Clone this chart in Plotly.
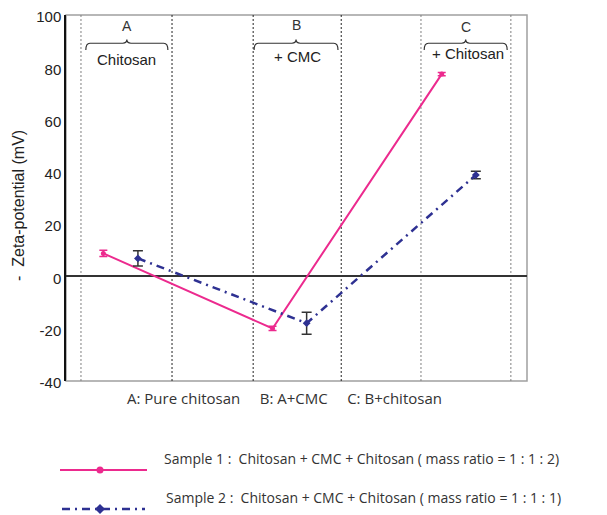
import plotly.graph_objects as go

# ---- data ----
stage_pos_s1 = [8.1, 44.8, 81.5]
zeta_s1 = [8.8, -19.9, 77.4]
err_s1 = [1.2, 0.8, 0.6]

stage_pos_s2 = [15.6, 52.2, 88.9]
zeta_s2 = [6.9, -17.9, 38.8]
err_s2 = [2.9, 4.2, 1.4]

region_letters = ["A", "B", "C"]
region_labels = ["Chitosan", "+ CMC", "+ Chitosan"]
region_bounds = [(3.25, 23.0), (40.6, 59.7), (77.0, 96.5)]
y_ticks = [-40, -20, 0, 20, 40, 60, 80, 100]
y_tick_text = ["-40", "-20", "0", "20", "40", "60", "80", "100"]

legend_s1 = "Sample 1 :  Chitosan + CMC + Chitosan ( mass ratio = 1 : 1 : 2)"
legend_s2 = "Sample 2 :  Chitosan + CMC + Chitosan ( mass ratio = 1 : 1 : 1)"
caption = ("A: Pure chitosan&nbsp;&nbsp;&nbsp;&nbsp; B: A+CMC"
           "&nbsp;&nbsp;&nbsp;&nbsp; C: B+chitosan")

PINK = "#EC2A8E"
NAVY = "#2E3192"
# page body adds an 8px offset; size the figure to fit the window
OFF = 8
W, H = 607 - OFF, 515 - OFF


def px(x):
    return (x - OFF) / W


def py(y):
    return 1 - (y - OFF) / H


fig = go.Figure()
fig.add_trace(go.Scatter(
    x=stage_pos_s1, y=zeta_s1, mode="lines+markers",
    line=dict(color=PINK, width=2),
    marker=dict(color=PINK, size=5, symbol="circle"),
    error_y=dict(type="data", array=err_s1, color=PINK, thickness=1.5, width=4),
    showlegend=False))
fig.add_trace(go.Scatter(
    x=stage_pos_s2, y=zeta_s2, mode="lines+markers",
    line=dict(color=NAVY, width=2.5, dash="8px,5px,2px,5px"),
    marker=dict(color=NAVY, size=6, symbol="diamond"),
    error_y=dict(type="data", array=err_s2, color="#333333", thickness=1.5, width=5),
    showlegend=False))

shapes = []
# frame
shapes.append(dict(type="rect", xref="x domain", yref="y domain", x0=0, x1=1, y0=0, y1=1,
                   line=dict(color="#A0A0A0", width=1.5), layer="below"))
# vertical dotted separators
sep_colors = ["#808080", "#222222", "#222222", "#222222", "#808080", "#808080"]
seps = [b for pair in region_bounds for b in pair]
for xv, c in zip(seps, sep_colors):
    shapes.append(dict(type="line", xref="x", yref="y domain", x0=xv, x1=xv, y0=0, y1=1,
                       line=dict(color=c, width=1, dash="2px,2px"), layer="below"))


def brace(x1, x2, yb=86.6, yl=89.2, yt=90.6, r=0.9):
    xm = (x1 + x2) / 2
    return (f"M {x1},{yb} Q {x1},{yl} {x1+r},{yl} L {xm-r},{yl} Q {xm},{yl} {xm},{yt} "
            f"Q {xm},{yl} {xm+r},{yl} L {x2-r},{yl} Q {x2},{yl} {x2},{yb}")


brace_spans = [(4.3, 22.1), (40.8, 59.0), (77.7, 95.7)]
for (a, b) in brace_spans:
    shapes.append(dict(type="path", xref="x", yref="y", path=brace(a, b),
                       line=dict(color="#333333", width=1.2)))

# legend glyphs (paper coords)
shapes.append(dict(type="line", xref="paper", yref="paper", x0=px(60), x1=px(147),
                   y0=py(470), y1=py(470), line=dict(color=PINK, width=2)))
shapes.append(dict(type="circle", xref="paper", yref="paper", x0=px(96.5), x1=px(103.5),
                   y0=py(473.5), y1=py(466.5), fillcolor=PINK, line=dict(color=PINK, width=0)))
shapes.append(dict(type="line", xref="paper", yref="paper", x0=px(62), x1=px(145),
                   y0=py(509), y1=py(509), line=dict(color=NAVY, width=2.5, dash="8px,5px,2px,5px")))
shapes.append(dict(type="path", xref="paper", yref="paper",
                   path=f"M {px(100)},{py(504)} L {px(105)},{py(509)} L {px(100)},{py(514)} L {px(95)},{py(509)} Z",
                   fillcolor=NAVY, line=dict(color=NAVY, width=0)))

annotations = []
letter_y = [95.6, 96.2, 95.4]
label_pos = [(13.2, 82.8), (50.3, 84.3), (87.2, 85.1)]
for (a, b), L, ly in zip(brace_spans, region_letters, letter_y):
    annotations.append(dict(x=(a + b) / 2, y=ly, xref="x", yref="y", text=L, showarrow=False,
                            xanchor="center",
                            font=dict(family="Liberation Sans, Arial", size=14, color="#333333")))
for (lx, lyy), t in zip(label_pos, region_labels):
    annotations.append(dict(x=lx, y=lyy, xref="x", yref="y", text=t, showarrow=False,
                            xanchor="center",
                            font=dict(family="Liberation Sans, Arial", size=15, color="#222222")))

annotations.append(dict(x=px(18.5), y=py(205.5), xref="paper", yref="paper",
                        xanchor="center", yanchor="middle",
                        text="-&nbsp;&nbsp;Zeta-potential (mV)", textangle=-90, showarrow=False,
                        font=dict(family="Liberation Sans, Arial", size=16, color="#222222")))
annotations.append(dict(x=px(284), y=py(410), xref="paper", yref="paper", text=caption,
                        xanchor="center",
                        showarrow=False, font=dict(family="Open Sans", size=15, color="#333333")))
annotations.append(dict(x=px(162), y=py(470), xref="paper", yref="paper", text=legend_s1,
                        xanchor="left", showarrow=False,
                        font=dict(family="Open Sans", size=14, color="#333333")))
annotations.append(dict(x=px(164), y=py(509), xref="paper", yref="paper", text=legend_s2,
                        xanchor="left", showarrow=False,
                        font=dict(family="Open Sans", size=14, color="#333333")))

fig.update_layout(
    width=W, height=H,
    margin=dict(l=0, r=0, t=0, b=0, autoexpand=False),
    paper_bgcolor="white", plot_bgcolor="white",
    shapes=shapes, annotations=annotations,
    showlegend=False,
    xaxis=dict(domain=[px(66), px(527)], range=[0, 100], showticklabels=False,
               showgrid=False, zeroline=False, showline=False, ticks="", automargin=False),
    yaxis=dict(domain=[py(381), py(15)], range=[-40, 100], tickvals=y_ticks,
               ticktext=y_tick_text, automargin=False, ticklabeloverflow="allow",
               ticklabelshift=2,
               showgrid=False, zeroline=True, zerolinecolor="#333333", zerolinewidth=1.5,
               showline=True, linecolor="#111111", linewidth=1.5, ticks="",
               tickfont=dict(family="Liberation Sans, Arial", size=15, color="#222222")),
)

fig.write_html("out.html")
